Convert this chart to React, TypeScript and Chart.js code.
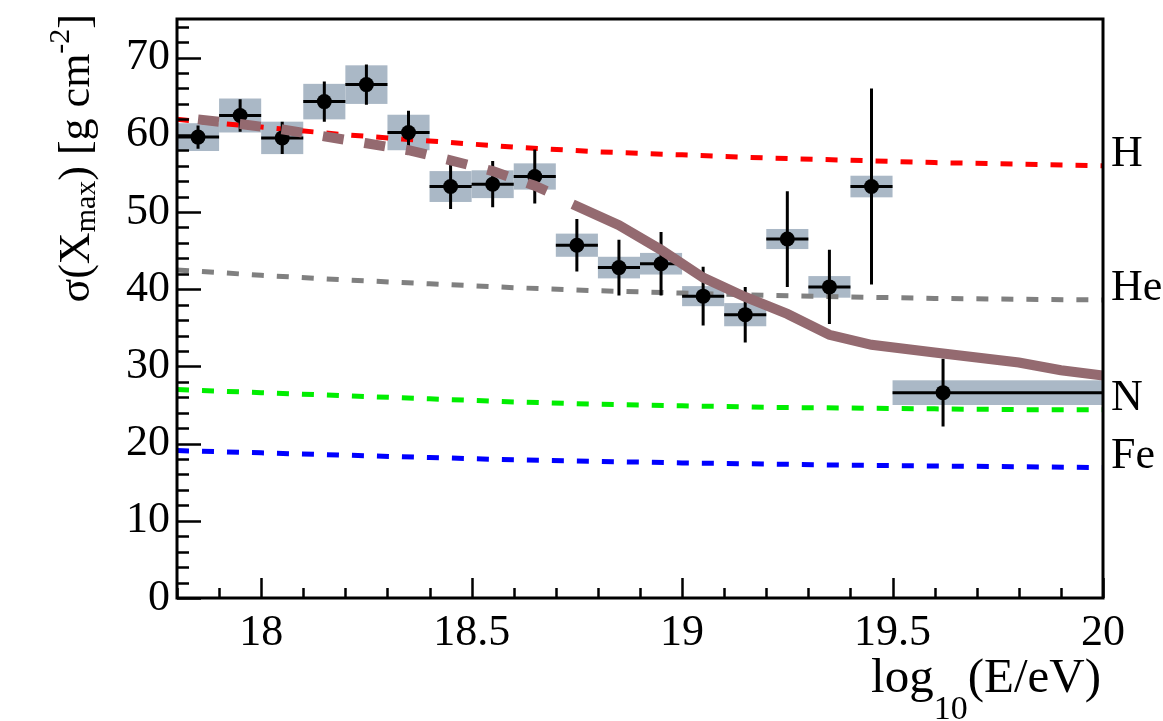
import React, { useEffect, useRef } from "react";
import { Chart, registerables } from "chart.js";

Chart.register(...registerables);

// ---------- data ----------
const xTickValues = [18, 18.5, 19, 19.5, 20];
const yTickValues = [0, 10, 20, 30, 40, 50, 60, 70];

const binCenter = [17.85, 17.95, 18.05, 18.15, 18.25, 18.35, 18.45, 18.55, 18.65, 18.75, 18.85, 18.95, 19.05, 19.15, 19.25, 19.35, 19.45, 19.62];
const binLow = [17.8, 17.9, 18.0, 18.1, 18.2, 18.3, 18.4, 18.5, 18.6, 18.7, 18.8, 18.9, 19.0, 19.1, 19.2, 19.3, 19.4, 19.5];
const binHigh = [17.9, 18.0, 18.1, 18.2, 18.3, 18.4, 18.5, 18.6, 18.7, 18.8, 18.9, 19.0, 19.1, 19.2, 19.3, 19.4, 19.5, 20.0];
const sigmaXmax = [59.7, 62.5, 59.6, 64.3, 66.5, 60.3, 53.3, 53.6, 54.6, 45.7, 42.8, 43.3, 39.1, 36.7, 46.5, 40.3, 53.3, 26.6];
const statErr = [1.5, 2.1, 2.1, 2.6, 2.6, 2.8, 2.9, 3.0, 3.5, 3.4, 3.6, 4.1, 3.8, 3.6, 6.2, 4.8, 12.7, 4.4];
const sysErr = [1.8, 2.2, 2.1, 2.3, 2.5, 2.3, 2.0, 1.8, 1.7, 1.5, 1.4, 1.4, 1.3, 1.5, 1.3, 1.4, 1.4, 1.6];

const modelX = [17.8, 18.0, 18.2, 18.4, 18.6, 18.8, 19.0, 19.2, 19.4, 19.6, 19.8, 20.0];
const modelH = [62.0, 61.0, 60.0, 59.2, 58.4, 57.8, 57.4, 57.0, 56.7, 56.4, 56.2, 56.0];
const modelHe = [42.5, 41.8, 41.2, 40.7, 40.2, 39.8, 39.5, 39.2, 39.0, 38.8, 38.7, 38.6];
const modelN = [27.0, 26.6, 26.2, 25.8, 25.4, 25.1, 24.9, 24.7, 24.6, 24.5, 24.4, 24.4];
const modelFe = [19.1, 18.8, 18.5, 18.2, 17.9, 17.7, 17.5, 17.35, 17.2, 17.1, 17.0, 16.9];
const modelNames = ["H", "He", "N", "Fe"];

const fitDashX = [17.85, 17.95, 18.05, 18.15, 18.25, 18.35, 18.45, 18.55, 18.65, 18.70];
const fitDashY = [62.0, 61.4, 60.7, 59.8, 58.9, 58.0, 56.7, 55.3, 53.4, 52.2];
const fitSolidX = [18.74, 18.85, 18.95, 19.05, 19.15, 19.25, 19.35, 19.45, 19.6, 19.8, 19.9, 20.0];
const fitSolidY = [51.0, 48.3, 45.1, 41.5, 39.0, 36.8, 34.1, 32.8, 31.8, 30.5, 29.5, 28.8];

// ---------- style ----------
const SERIF = '"Liberation Serif", "Times New Roman", Times, serif';
const BOX_COLOR = "rgb(170,184,198)";
const FIT_COLOR = "#946a70";
const POINTS_INDEX = 2;

type Run = { text: string; size: number; dy?: number };

function runsWidth(ctx: CanvasRenderingContext2D, runs: Run[]) {
  let w = 0;
  for (const r of runs) {
    ctx.font = `${r.size}px ${SERIF}`;
    w += ctx.measureText(r.text).width;
  }
  return w;
}

function drawRuns(ctx: CanvasRenderingContext2D, runs: Run[], x0: number, y0: number) {
  let x = x0;
  for (const r of runs) {
    ctx.font = `${r.size}px ${SERIF}`;
    ctx.fillText(r.text, x, y0 + (r.dy || 0));
    x += ctx.measureText(r.text).width;
  }
}

const pairs = (xs: number[], ys: number[]) => xs.map((x, i) => ({ x, y: ys[i] }));

export default function App() {
  const ref = useRef<HTMLCanvasElement>(null);

  useEffect(() => {
    const canvas = ref.current;
    if (!canvas) return;
    let chart: any = null;
    let cancelled = false;

    const rootPlugin = {
      id: "rootStyle",
      beforeDatasetsDraw(c: any) {
        const ctx = c.ctx as CanvasRenderingContext2D;
        const xs = c.scales.x;
        const ys = c.scales.y;
        ctx.save();
        ctx.fillStyle = BOX_COLOR;
        for (let i = 0; i < binCenter.length; i++) {
          const x1 = xs.getPixelForValue(binLow[i]);
          const x2 = xs.getPixelForValue(binHigh[i]);
          const y1 = ys.getPixelForValue(sigmaXmax[i] + sysErr[i]);
          const y2 = ys.getPixelForValue(sigmaXmax[i] - sysErr[i]);
          ctx.fillRect(x1, y1, x2 - x1, y2 - y1);
        }
        ctx.restore();
      },
      afterDatasetDraw(c: any, args: any) {
        if (args.index !== POINTS_INDEX) return;
        const ctx = c.ctx as CanvasRenderingContext2D;
        const xs = c.scales.x;
        const ys = c.scales.y;
        ctx.save();
        ctx.strokeStyle = "#000";
        ctx.lineWidth = 3;
        ctx.beginPath();
        for (let i = 0; i < binCenter.length; i++) {
          const px = xs.getPixelForValue(binCenter[i]);
          const py = ys.getPixelForValue(sigmaXmax[i]);
          ctx.moveTo(xs.getPixelForValue(binLow[i]), py);
          ctx.lineTo(xs.getPixelForValue(binHigh[i]), py);
          ctx.moveTo(px, ys.getPixelForValue(sigmaXmax[i] + statErr[i]));
          ctx.lineTo(px, ys.getPixelForValue(sigmaXmax[i] - statErr[i]));
        }
        ctx.stroke();
        ctx.restore();
      },
      afterDraw(c: any) {
        const ctx = c.ctx as CanvasRenderingContext2D;
        const { left, right, top, bottom } = c.chartArea;
        const xs = c.scales.x;
        const ys = c.scales.y;
        ctx.save();
        ctx.strokeStyle = "#000";
        ctx.lineWidth = 2.5;
        ctx.beginPath();
        for (let v = 0; v <= 75; v += 2) {
          const py = Math.round(ys.getPixelForValue(v)) + 0.5;
          const len = v % 10 === 0 ? 24 : 12;
          ctx.moveTo(left, py);
          ctx.lineTo(left + len, py);
        }
        for (let k = 0; k <= 22; k++) {
          const v = 17.8 + k * 0.1;
          const px = Math.round(xs.getPixelForValue(v)) + 0.5;
          const major = Math.abs(v * 2 - Math.round(v * 2)) < 1e-6;
          const len = major ? 20 : 10;
          ctx.moveTo(px, bottom);
          ctx.lineTo(px, bottom - len);
        }
        ctx.stroke();
        ctx.lineWidth = 3;
        ctx.strokeRect(left, top, right - left, bottom - top);

        // composition labels on the right
        ctx.fillStyle = "#000";
        ctx.textAlign = "left";
        ctx.textBaseline = "alphabetic";
        ctx.font = `44px ${SERIF}`;
        const ends = [modelH, modelHe, modelN, modelFe].map((m) => m[m.length - 1]);
        modelNames.forEach((name, i) => {
          ctx.fillText(name, right + 8, ys.getPixelForValue(ends[i]));
        });

        // x title
        const xRuns: Run[] = [
          { text: "log", size: 49 },
          { text: "10", size: 34, dy: 27 },
          { text: "(E/eV)", size: 49 },
        ];
        const xw = runsWidth(ctx, xRuns);
        drawRuns(ctx, xRuns, right - xw - 2, 692);

        // y title
        const yRuns: Run[] = [
          { text: "σ(X", size: 44 },
          { text: "max", size: 30, dy: 6 },
          { text: ") [g cm", size: 44 },
          { text: "-2", size: 30, dy: -20 },
          { text: "]", size: 44 },
        ];
        const yw = runsWidth(ctx, yRuns);
        ctx.translate(89, 14 + yw);
        ctx.rotate(-Math.PI / 2);
        drawRuns(ctx, yRuns, 0, 0);
        ctx.restore();
      },
    };

    const dashedModel = (data: number[], color: string) => ({
      type: "line" as const,
      data: pairs(modelX, data),
      borderColor: color,
      borderWidth: 5,
      borderDash: [12, 13],
      pointRadius: 0,
      fill: false,
      tension: 0,
    });

    const build = () => {
      if (cancelled) return;
      chart = new Chart(canvas, {
        type: "scatter",
        data: {
          datasets: [
            {
              type: "line",
              data: pairs(fitDashX, fitDashY),
              borderColor: FIT_COLOR,
              borderWidth: 10,
              borderDash: [21, 21],
              pointRadius: 0,
              fill: false,
            },
            {
              type: "line",
              data: pairs(fitSolidX, fitSolidY),
              borderColor: FIT_COLOR,
              borderWidth: 10,
              pointRadius: 0,
              fill: false,
            },
            {
              type: "scatter",
              data: pairs(binCenter, sigmaXmax),
              pointRadius: 7.5,
              pointBackgroundColor: "#000",
              pointBorderWidth: 0,
              borderColor: "#000",
              showLine: false,
            },
            dashedModel(modelH, "#ff0000"),
            dashedModel(modelHe, "#808080"),
            dashedModel(modelN, "#00ee00"),
            dashedModel(modelFe, "#0000ff"),
          ] as any,
        },
        options: {
          animation: false,
          responsive: false,
          devicePixelRatio: 1,
          layout: { padding: { top: 19, right: 60, left: 0, bottom: 0 } },
          plugins: { legend: { display: false }, tooltip: { enabled: false } },
          events: [],
          scales: {
            x: {
              type: "linear",
              min: 17.8,
              max: 20,
              afterBuildTicks: (s: any) => {
                s.ticks = xTickValues.map((v) => ({ value: v }));
              },
              afterFit: (s: any) => {
                s.height = 123;
                s.paddingLeft = 0;
                s.paddingRight = 0;
                s.paddingTop = 0;
                s.paddingBottom = 0;
              },
              ticks: {
                font: { family: SERIF, size: 44 },
                color: "#000",
                padding: 9,
                maxRotation: 0,
                autoSkip: false,
                callback: (v: any) => String(v),
              },
              grid: { display: false, drawTicks: false },
              border: { display: false },
            },
            y: {
              type: "linear",
              min: 0,
              max: 75,
              afterBuildTicks: (s: any) => {
                s.ticks = yTickValues.map((v) => ({ value: v }));
              },
              afterFit: (s: any) => {
                s.width = 177;
                s.paddingLeft = 0;
                s.paddingRight = 0;
                s.paddingTop = 0;
                s.paddingBottom = 0;
              },
              ticks: {
                font: { family: SERIF, size: 44 },
                color: "#000",
                padding: 7,
                autoSkip: false,
                callback: (v: any) => String(v),
              },
              grid: { display: false, drawTicks: false },
              border: { display: false },
            },
          },
        },
        plugins: [rootPlugin],
      } as any);
    };

    const fonts: any = (document as any).fonts;
    if (fonts && fonts.load) {
      Promise.all([
        fonts.load('44px "Liberation Serif"'),
        fonts.load('30px "Liberation Serif"'),
      ])
        .catch(() => null)
        .then(build);
    } else {
      build();
    }

    return () => {
      cancelled = true;
      if (chart) chart.destroy();
    };
  }, []);

  return (
    <div style={{ position: "fixed", left: 0, top: 0, width: 1163, height: 721, background: "#fff" }}>
      <canvas ref={ref} width={1163} height={721} style={{ display: "block", width: 1163, height: 721 }} />
    </div>
  );
}
